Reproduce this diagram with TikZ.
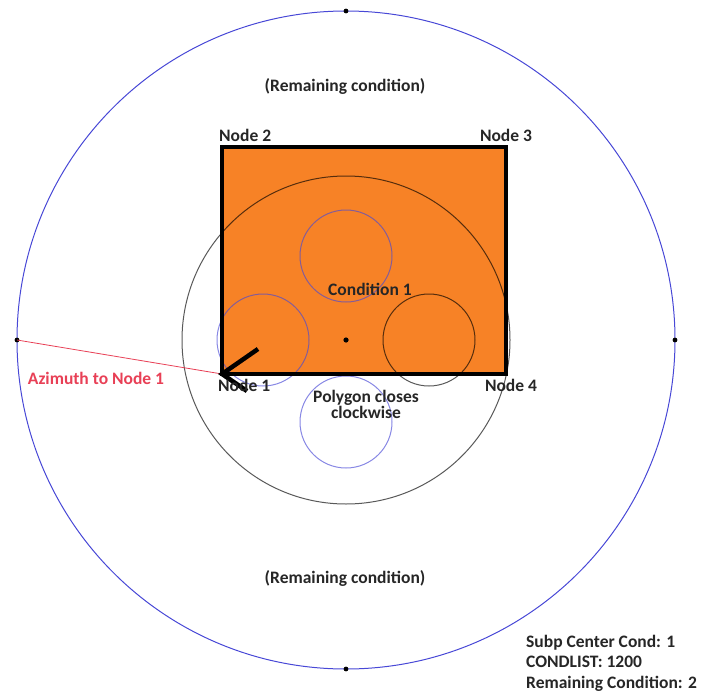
\documentclass[tikz,border=0pt]{standalone}
\usepackage{fontspec}
\setmainfont{Carlito}
\usetikzlibrary{positioning}
\definecolor{plotorange}{RGB}{247,130,38}
\definecolor{ringblue}{RGB}{72,72,214}
\definecolor{azred}{RGB}{232,64,86}

\begin{document}
\begin{tikzpicture}[
  x=1pt, y=-1pt,
  every node/.style={font=\fontsize{17.5}{19}\selectfont\bfseries, text=black!85, inner sep=1pt},
  ring/.style={ringblue, line width=1pt},
  subp/.style={line width=1pt, draw opacity=0.65},
  edge/.style={line width=3.6pt, line join=miter}]

\useasboundingbox (0,0) rectangle (701,698);

% --- Plot centre and outer ring (cardinal points) ---
\coordinate (C) at (346,340);
\draw[ring] (C) circle (329);
\foreach \name/\dx/\dy in {N/0/-329, E/329/0, S/0/329, W/-329/0}{
  \coordinate (\name) at ([shift={(\dx,\dy)}]C);
  \fill (\name) circle (2.4);
}

% --- Polygon corners (clockwise from Node 1) ---
\coordinate (n1) at (222,374);
\coordinate (n2) at (222,147);
\coordinate (n3) at (506,147);
\coordinate (n4) at (506,374);
\fill[plotorange] (n1) -- (n2) -- (n3) -- (n4) -- cycle;

% --- Subplot circle and the four small circles ---
\draw[subp,black] (C) circle (164);
\foreach \dx/\dy/\col in {0/-84/ringblue, -83/0/ringblue, 83/0/black, 0/82/ringblue}
  \draw[subp,\col] ([shift={(\dx,\dy)}]C) circle (46);

\draw[edge] (n1) -- (n2) -- (n3) -- (n4) -- cycle;
\fill (C) circle (2.6);

% --- Azimuth line and direction mark ---
\draw[azred, line width=0.8pt] (W) -- (n1);
\coordinate (tipA) at (258,349);
\coordinate (tipB) at (247,391);
\draw[line width=4.5pt] (tipA) -- (n1) -- (tipB);

% --- Labels ---
\node[above right=4pt and -4pt of n2] (l2) {Node 2};
\node[above=4pt of n3] (l3) {Node 3};
\node[below right=4pt and -5pt of n1] (l1) {Node 1};
\node[below=4pt of n4, xshift=5pt] (l4) {Node 4};
\node (cond) at (370,289) {Condition 1};
\node[align=center] (poly) at (366,404) {Polygon closes\\[-3pt]clockwise};
\node[text=azred] (az) at (96,378) {Azimuth to Node 1};
\node (remN) at (345,86) {(Remaining condition)};
\node (remS) at (345,578) {(Remaining condition)};
\node[anchor=north west, align=left, font=\fontsize{17.5}{20.5}\selectfont\bfseries] (info) at (525,634)
  {Subp Center Cond: 1\\CONDLIST: 1200\\Remaining Condition: 2};

\end{tikzpicture}
\end{document}
